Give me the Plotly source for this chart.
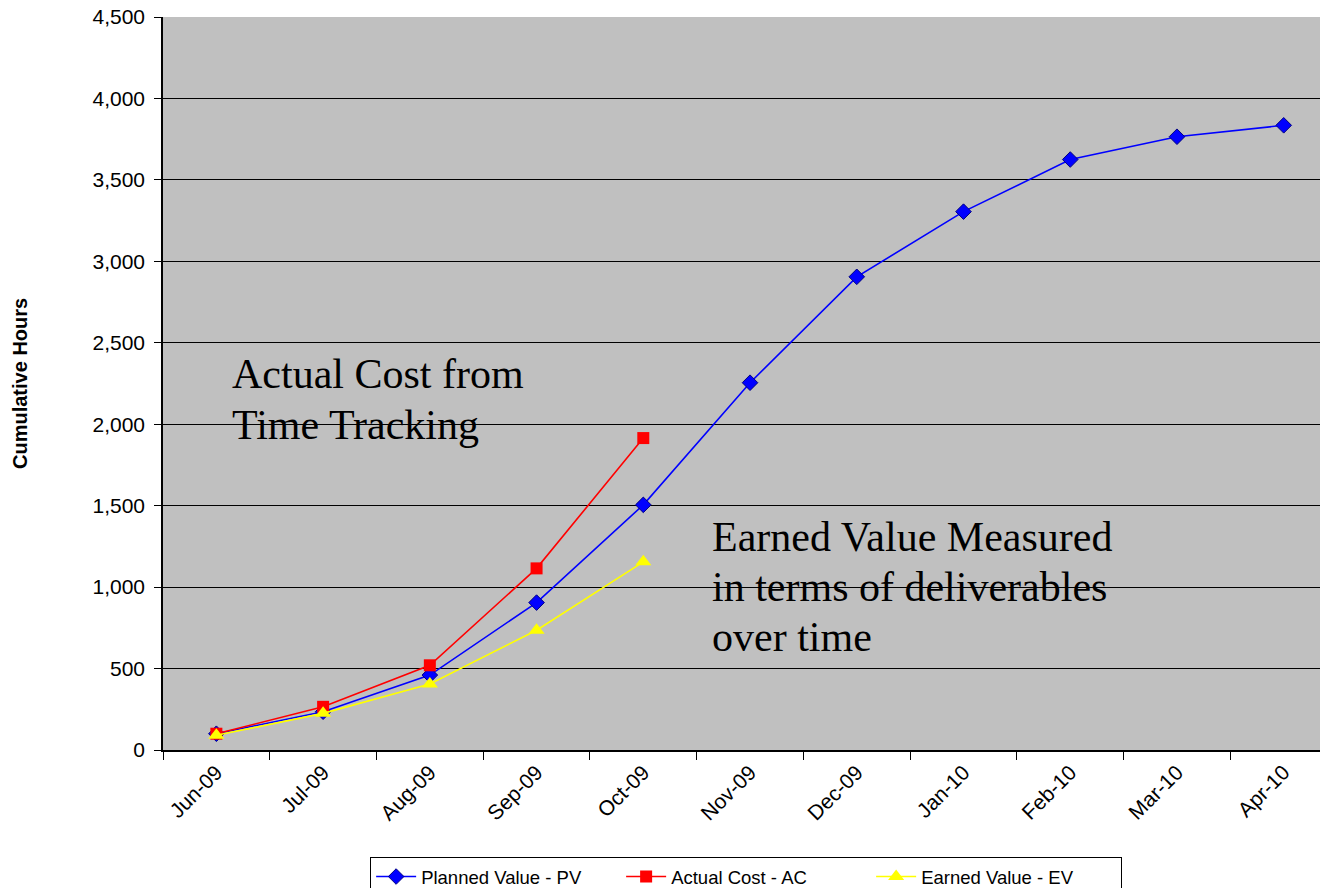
import plotly.graph_objects as go

months = ["Jun-09", "Jul-09", "Aug-09", "Sep-09", "Oct-09", "Nov-09",
          "Dec-09", "Jan-10", "Feb-10", "Mar-10", "Apr-10"]
planned_value = [100, 235, 460, 905, 1505, 2255, 2905, 3305, 3625, 3765, 3835]
actual_cost = [100, 265, 520, 1115, 1915]
earned_value = [90, 225, 405, 735, 1155]

ac_note = ["Actual Cost from", "Time Tracking"]
ev_note = ["Earned Value Measured", "in terms of deliverables", "over time"]

fig = go.Figure()
fig.add_trace(go.Scatter(
    x=months, y=planned_value, name="Planned Value - PV", mode="lines+markers",
    line=dict(color="#0000FF", width=1.6),
    marker=dict(symbol="diamond", size=12, color="#0000FF",
                line=dict(color="#000080", width=1))))
fig.add_trace(go.Scatter(
    x=months[:len(actual_cost)], y=actual_cost, name="Actual Cost - AC",
    mode="lines+markers", line=dict(color="#FF0000", width=1.6),
    marker=dict(symbol="square", size=12, color="#FF0000")))
fig.add_trace(go.Scatter(
    x=months[:len(earned_value)], y=earned_value, name="Earned Value - EV",
    mode="lines+markers", line=dict(color="#FFFF00", width=1.6),
    marker=dict(symbol="triangle-up", size=14, color="#FFFF00")))

serif = dict(family="Liberation Serif, Times New Roman", size=42, color="black")
annotations = [
    dict(text="<b>Cumulative Hours</b>", textangle=-90, xref="paper",
         yref="paper", x=-0.1236, y=0.5007, xanchor="center",
         yanchor="middle", showarrow=False, font=dict(size=20)),
]
for i, line in enumerate(ac_note):
    annotations.append(dict(text=line, xref="paper", yref="paper",
                            x=0.0575, y=0.547 - i * 0.0696, xanchor="left",
                            yanchor="top", showarrow=False, font=serif))
for i, line in enumerate(ev_note):
    annotations.append(dict(text=line, xref="paper", yref="paper",
                            x=0.4725, y=0.3247 - i * 0.0682, xanchor="left",
                            yanchor="top", showarrow=False, font=serif))

fig.update_layout(
    width=1320, height=888,
    margin=dict(l=163, r=0, t=17, b=138, autoexpand=False),
    plot_bgcolor="#C0C0C0", paper_bgcolor="white",
    font=dict(family="Liberation Sans, Arial", color="black", size=21),
    showlegend=True,
    legend=dict(orientation="h", x=0.504, xanchor="center", y=-0.146,
                yanchor="top", bgcolor="white", bordercolor="black",
                borderwidth=1, font=dict(size=18.5), itemwidth=40,
                entrywidth=195, entrywidthmode="pixels"),
    annotations=annotations,
)
fig.update_xaxes(
    type="category", categoryorder="array", categoryarray=months,
    range=[-0.5, 10.34], tickson="boundaries", ticks="outside", ticklen=8,
    tickcolor="black", tickangle=-45, showgrid=False, showline=True,
    linecolor="black", linewidth=1.5, tickfont=dict(size=21))
fig.update_yaxes(
    range=[0, 4500], dtick=500, tickformat=",", ticks="outside", ticklen=7,
    tickcolor="black", showgrid=True, gridcolor="black", gridwidth=1.3,
    showline=True, linecolor="black", linewidth=1.5, zeroline=False,
    tickfont=dict(size=21), ticklabelstandoff=5)

fig.write_html("out.html",
               config={"displayModeBar": False},
               post_script="document.body.style.margin='0';"
                           "document.body.style.overflow='hidden';")
